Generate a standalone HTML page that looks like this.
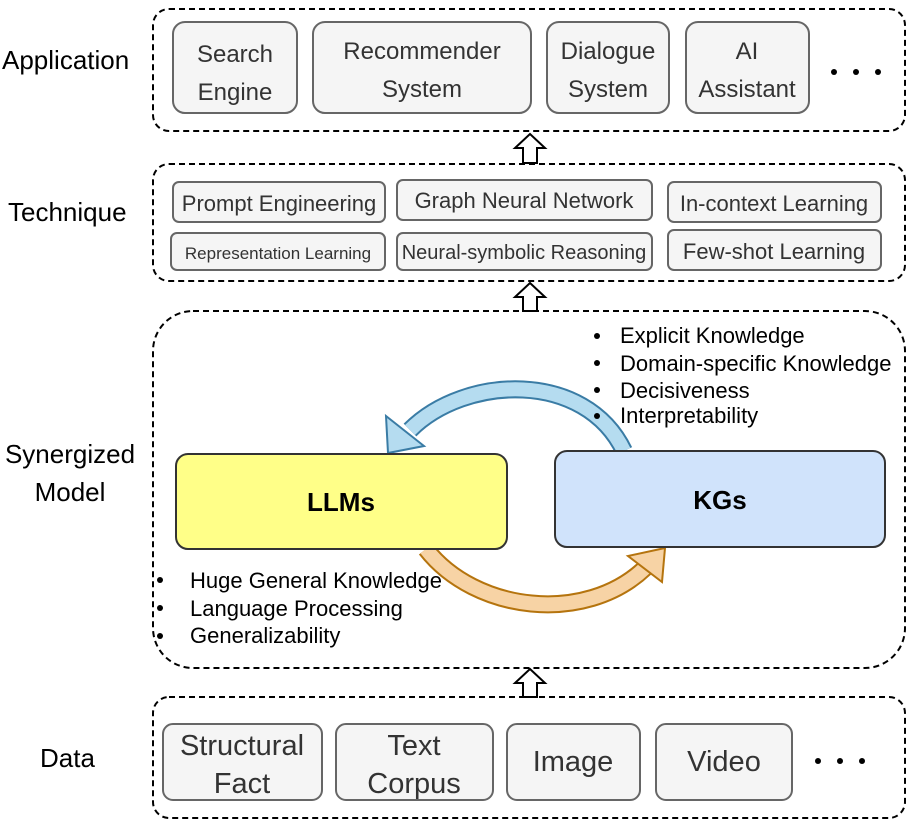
<!DOCTYPE html>
<html><head><meta charset="utf-8"><style>
body{margin:0;background:#fff;}
svg text{font-family:"Liberation Sans",sans-serif;}
</style></head><body>
<svg width="910" height="827" viewBox="0 0 910 827" xmlns="http://www.w3.org/2000/svg">
<g fill="none" stroke="#000" stroke-width="2" stroke-dasharray="6,4">
<rect x="153" y="9" width="752" height="122" rx="16"/>
<rect x="153" y="164" width="752" height="117" rx="16"/>
<rect x="153" y="311" width="752" height="357" rx="40"/>
<rect x="153" y="697" width="752" height="121" rx="16"/>
</g>
<g fill="#f5f5f5" stroke="#666" stroke-width="2">
<rect x="173" y="22" width="124" height="91" rx="12"/>
<rect x="313" y="22" width="218" height="91" rx="12"/>
<rect x="547" y="22" width="122" height="91" rx="12"/>
<rect x="686" y="22" width="123" height="91" rx="12"/>
<rect x="173" y="182" width="212" height="40" rx="6"/>
<rect x="397" y="180" width="255" height="40" rx="6"/>
<rect x="668" y="182" width="213" height="40" rx="6"/>
<rect x="171" y="233" width="214" height="37" rx="6"/>
<rect x="397" y="233" width="255" height="37" rx="6"/>
<rect x="668" y="230" width="213" height="40" rx="6"/>
<rect x="163" y="724" width="159" height="76" rx="10"/>
<rect x="336" y="724" width="157" height="76" rx="10"/>
<rect x="507" y="724" width="133" height="76" rx="10"/>
<rect x="656" y="724" width="136" height="76" rx="10"/>
</g>
<g font-size="24" fill="#333" text-anchor="middle">
<text x="235" y="62">Search</text><text x="235" y="100">Engine</text>
<text x="422" y="59">Recommender</text><text x="422" y="97">System</text>
<text x="608" y="59">Dialogue</text><text x="608" y="97">System</text>
<text x="747" y="59">AI</text><text x="747" y="97">Assistant</text>
</g>
<g font-size="22" fill="#333" text-anchor="middle">
<text x="279" y="211">Prompt Engineering</text>
<text x="524" y="208">Graph Neural Network</text>
<text x="774" y="211">In-context Learning</text>
<text x="278" y="259" font-size="17">Representation Learning</text>
<text x="524" y="259" font-size="20">Neural-symbolic Reasoning</text>
<text x="774" y="259">Few-shot Learning</text>
</g>
<g font-size="29" fill="#333" text-anchor="middle">
<text x="242" y="755">Structural</text><text x="242" y="793">Fact</text>
<text x="414" y="755">Text</text><text x="414" y="793">Corpus</text>
<text x="573" y="771">Image</text>
<text x="724" y="771">Video</text>
</g>
<g fill="#000">
<circle cx="834" cy="72" r="3"/><circle cx="856" cy="72" r="3"/><circle cx="878" cy="72" r="3"/>
<circle cx="818" cy="761" r="3"/><circle cx="840" cy="761" r="3"/><circle cx="862" cy="761" r="3"/>
</g>
<g font-size="26" fill="#000">
<text x="2" y="69">Application</text>
<text x="8" y="221">Technique</text>
<text x="70" y="463" text-anchor="middle">Synergized</text>
<text x="70" y="501" text-anchor="middle">Model</text>
<text x="40" y="767">Data</text>
</g>
<g fill="#fff" stroke="#000" stroke-width="2">
<polygon points="523,163 537,163 537,148 545,148 530,134 515,148 523,148"/>
<polygon points="523,311 537,311 537,297 545,297 530,283 515,297 523,297"/>
<polygon points="523,697 537,697 537,683 545,683 530,669 515,683 523,683"/>
</g>
<path d="M624,451 C585,370 465,375 410,430" fill="none" stroke="#3a7ca5" stroke-width="18"/>
<path d="M624,451 C585,370 465,375 410,430" fill="none" stroke="#b5dcf0" stroke-width="14"/>
<polygon points="388,453 386,416 424,446" fill="#b5dcf0" stroke="#3a7ca5" stroke-width="2"/>
<path d="M426,549 C475,612 585,625 645,568" fill="none" stroke="#b5740e" stroke-width="18"/>
<path d="M426,549 C475,612 585,625 645,568" fill="none" stroke="#f7d3a5" stroke-width="14"/>
<polygon points="665,548 628,556 662,582" fill="#f7d3a5" stroke="#b5740e" stroke-width="2"/>
<rect x="176" y="454" width="331" height="95" rx="12" fill="#ffff88" stroke="#333" stroke-width="2"/>
<rect x="555" y="451" width="330" height="96" rx="12" fill="#d0e3fb" stroke="#333" stroke-width="2"/>
<g font-size="26" font-weight="bold" fill="#000" text-anchor="middle">
<text x="341" y="511">LLMs</text>
<text x="720" y="509">KGs</text>
</g>
<g font-size="22" fill="#000">
<text x="620" y="343">Explicit Knowledge</text>
<text x="620" y="371">Domain-specific Knowledge</text>
<text x="620" y="398">Decisiveness</text>
<text x="620" y="423">Interpretability</text>
<text x="190" y="588">Huge General Knowledge</text>
<text x="190" y="616">Language Processing</text>
<text x="190" y="643">Generalizability</text>
<circle cx="597" cy="336" r="3"/><circle cx="597" cy="363" r="3"/><circle cx="597" cy="390" r="3"/><circle cx="597" cy="416" r="3"/>
<circle cx="160" cy="580" r="3"/><circle cx="160" cy="608" r="3"/><circle cx="160" cy="636" r="3"/>
</g>
</svg>
</body></html>
